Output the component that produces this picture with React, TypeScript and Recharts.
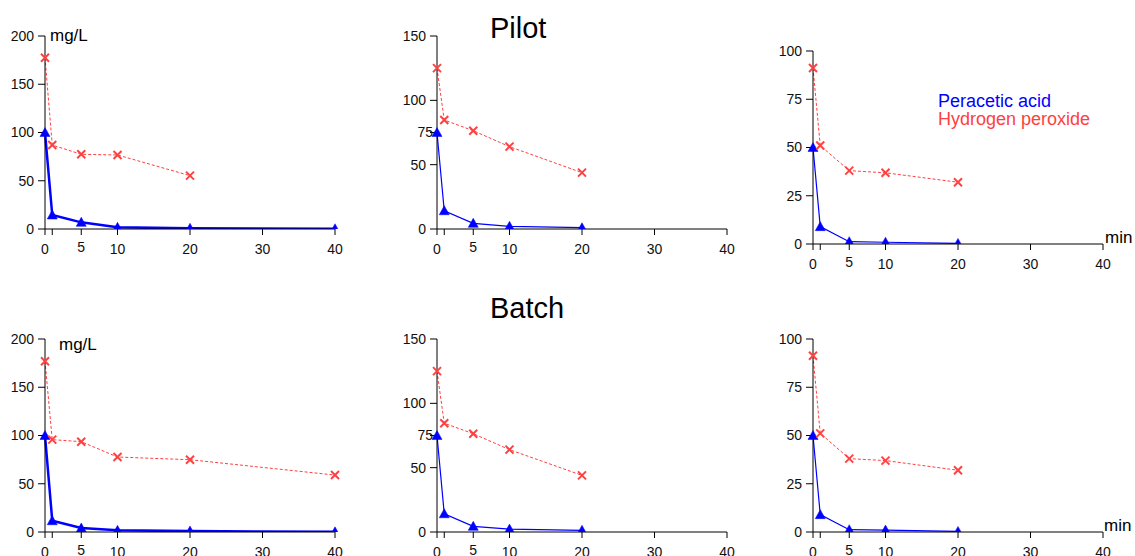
import React from 'react';
import { LineChart, Line, XAxis, YAxis } from 'recharts';

// ---- data ----
const timesLong = [0, 1, 5, 10, 20, 40];
const timesShort = [0, 1, 5, 10, 20];
const xTicks = [0, 1, 5, 10, 20, 30, 40];
const yTicks200 = [0, 50, 100, 150, 200];
const yTicks150 = [0, 50, 75, 100, 150];
const yTicks100 = [0, 25, 50, 75, 100];

const pilot200Paa = [100, 14.5, 6.9, 1.7, 0.7, 0.2];
const pilot200H2o2 = [177.5, 87, 77.4, 76.7, 55.3];
const pilot150Paa = [75, 14.2, 4.4, 2.1, 1.0];
const pilot150H2o2 = [125, 84.7, 76.4, 64, 43.8];
const pilot100Paa = [50, 9, 1.2, 0.9, 0.3];
const pilot100H2o2 = [91.2, 51, 38, 36.9, 32];

const batch200Paa = [100, 11.7, 4.1, 1.7, 1.0, 0.2];
const batch200H2o2 = [177, 95.7, 93.6, 77.7, 74.9, 59];
const batch150Paa = [75, 14.2, 4.4, 2.3, 1.3];
const batch150H2o2 = [125, 84.5, 76.4, 64, 44];
const batch100Paa = [50, 9, 1.2, 1.0, 0.3];
const batch100H2o2 = [91.3, 51.1, 38, 37, 32];

const BLUE = '#0000ff';
const RED = '#ff4040';
const FONT = '"Liberation Sans", Arial, Helvetica, sans-serif';
const TEXT = '#111';

const build = (times: number[], paa: number[], h2o2: number[]) =>
  times.map((t, i) => ({ t, paa: paa[i], h2o2: h2o2[i] }));

const panels = [
  { key: 'pa', left: 0, top: 0, data: build(timesLong, pilot200Paa, pilot200H2o2), max: 200, yTicks: yTicks200, paaW: 2.5 },
  { key: 'pb', left: 392, top: 0, data: build(timesShort, pilot150Paa, pilot150H2o2), max: 150, yTicks: yTicks150, paaW: 1.2 },
  { key: 'pc', left: 768, top: 15, data: build(timesShort, pilot100Paa, pilot100H2o2), max: 100, yTicks: yTicks100, paaW: 1.2 },
  { key: 'ba', left: 0, top: 303, data: build(timesLong, batch200Paa, batch200H2o2), max: 200, yTicks: yTicks200, paaW: 2.5 },
  { key: 'bb', left: 392, top: 303, data: build(timesShort, batch150Paa, batch150H2o2), max: 150, yTicks: yTicks150, paaW: 1.2 },
  { key: 'bc', left: 768, top: 303, data: build(timesShort, batch100Paa, batch100H2o2), max: 100, yTicks: yTicks100, paaW: 1.2 },
];

const triangleDot = (props: any) => {
  const { cx, cy, index, value } = props;
  if (cx == null || cy == null || value == null) return <g key={`t${index}`} />;
  return (
    <polygon
      key={`t${index}`}
      points={`${cx},${cy - 5} ${cx - 5},${cy + 4} ${cx + 5},${cy + 4}`}
      fill={BLUE}
      stroke={BLUE}
      strokeWidth={0.5}
    />
  );
};

const crossDot = (props: any) => {
  const { cx, cy, index, value } = props;
  if (cx == null || cy == null || value == null) return <g key={`c${index}`} />;
  const r = 4;
  return (
    <g key={`c${index}`}>
      <line x1={cx - r} y1={cy - r} x2={cx + r} y2={cy + r} stroke={RED} strokeWidth={2} />
      <line x1={cx - r} y1={cy + r} x2={cx + r} y2={cy - r} stroke={RED} strokeWidth={2} />
    </g>
  );
};

const XTick = (props: any) => {
  const { x, y, payload } = props;
  const v = payload.value;
  if (v === 1) return <g />;
  return (
    <text x={x} y={v === 5 ? y - 2 : y} dy="0.71em" textAnchor="middle" fontSize={14} fill={TEXT} fontFamily={FONT}>
      {v}
    </text>
  );
};

const makeYTick = (max: number) => (props: any) => {
  const { x, y, payload } = props;
  const v = payload.value;
  const shift = max === 150 && v === 75 ? 7 : 0;
  return (
    <text x={x + shift} y={y} dy="0.355em" textAnchor="end" fontSize={14} fill={TEXT} fontFamily={FONT}>
      {v}
    </text>
  );
};

const Panel = ({ p }: { p: typeof panels[number] }) => (
  <div style={{ position: 'absolute', left: p.left, top: p.top }}>
    <LineChart width={370} height={275} data={p.data} margin={{ top: 36, right: 35, bottom: 22, left: 5 }}>
      <XAxis
        dataKey="t"
        type="number"
        domain={[0, 40]}
        ticks={xTicks}
        interval={0}
        height={24}
        tickSize={6}
        tickMargin={9}
        axisLine={{ stroke: '#000', strokeWidth: 1 }}
        tickLine={{ stroke: '#000', strokeWidth: 1 }}
        tick={<XTick />}
      />
      <YAxis
        type="number"
        domain={[0, p.max]}
        ticks={p.yTicks}
        interval={0}
        width={40}
        tickSize={7}
        tickMargin={4}
        allowDataOverflow
        axisLine={{ stroke: '#000', strokeWidth: 1 }}
        tickLine={{ stroke: '#000', strokeWidth: 1 }}
        tick={makeYTick(p.max)}
      />
      <Line
        dataKey="paa"
        type="linear"
        stroke={BLUE}
        strokeWidth={p.paaW}
        dot={triangleDot}
        activeDot={false}
        isAnimationActive={false}
      />
      <Line
        dataKey="h2o2"
        type="linear"
        stroke={RED}
        strokeWidth={1}
        strokeDasharray="3 2"
        dot={crossDot}
        activeDot={false}
        isAnimationActive={false}
      />
    </LineChart>
  </div>
);

export default function App() {
  return (
    <div style={{ position: 'absolute', left: 0, top: 0, width: 1135, height: 556, overflow: 'hidden', background: '#fff' }}>
      {panels.map((p) => (
        <Panel key={p.key} p={p} />
      ))}
      <svg width={1135} height={556} style={{ position: 'absolute', left: 0, top: 0, pointerEvents: 'none' }}>
        <text x={490} y={38} fontSize={29} fill="#000" fontFamily={FONT}>Pilot</text>
        <text x={490} y={318} fontSize={29} fill="#000" fontFamily={FONT}>Batch</text>
        <text x={50} y={41} fontSize={17} fill="#000" fontFamily={FONT}>mg/L</text>
        <text x={59} y={350} fontSize={17} fill="#000" fontFamily={FONT}>mg/L</text>
        <text x={1105} y={243} fontSize={17} fill="#000" fontFamily={FONT}>min</text>
        <text x={1104} y={531} fontSize={17} fill="#000" fontFamily={FONT}>min</text>
        <text x={938} y={107} fontSize={18} fill={BLUE} fontFamily={FONT}>Peracetic acid</text>
        <text x={938} y={125} fontSize={18} fill={RED} fontFamily={FONT}>Hydrogen peroxide</text>
      </svg>
    </div>
  );
}
